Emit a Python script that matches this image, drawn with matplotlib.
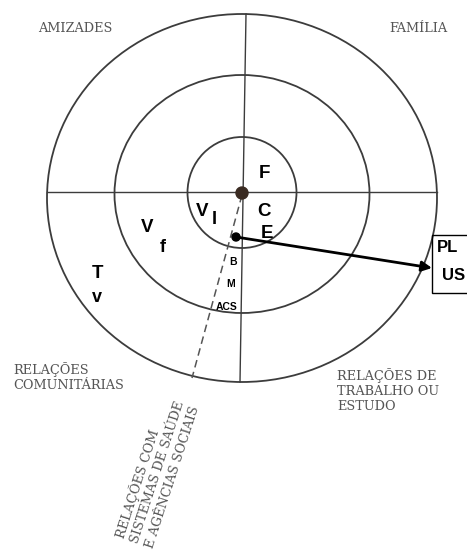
import matplotlib.pyplot as plt
from matplotlib.patches import Ellipse, Rectangle, Circle

W, H = 467, 552

# ring sizes (half widths / half heights, px) of the network map
ring_rx = [54.5, 127.5, 195]
ring_ry = [55.5, 119, 184]
ring_cy = [192.5, 194, 198]

quadrant_labels = ["AMIZADES", "FAMÍLIA", "RELAÇÕES\nCOMUNITÁRIAS",
                   "RELAÇÕES DE\nTRABALHO OU\nESTUDO"]
quadrant_pos = [(38, 29, "left"), (447, 29, "right"), (13, 377, "left"),
                (337, 391, "left")]
diag_label = "RELAÇÕES COM\nSISTEMAS DE SAÚDE\nE AGÊNCIAS SOCIAIS"

members = ["F", "C", "E", "V", "I", "V", "f", "T", "v"]
member_pos = [(264, 173), (264, 211), (267, 233), (202, 211), (214, 220),
              (147, 228), (163, 248), (97, 274), (97, 298)]
small_members = ["B", "M", "ACS"]
small_pos = [(233, 262), (231, 284), (227, 307)]
box_labels = ["PL", "US"]

fig = plt.figure(figsize=(W / 100, H / 100), dpi=100)
ax = fig.add_axes([0, 0, 1, 1])
ax.set_xlim(0, W)
ax.set_ylim(H, 0)
ax.axis("off")

line_col = "#3c3c3c"
for rx, ry, cy in zip(ring_rx, ring_ry, ring_cy):
    ax.add_patch(Ellipse((242, cy), 2 * rx, 2 * ry, fill=False,
                         ec=line_col, lw=1.3))

# quadrant dividers
ax.plot([47, 437], [192, 192], color=line_col, lw=1.0)
ax.plot([246, 240], [14, 382], color=line_col, lw=1.0)
# dashed sector for health systems
ax.plot([242, 192], [195, 378], color="#555555", lw=1.1, ls=(0, (5, 3)))

ax.add_patch(Circle((242, 193), 6, color="#3a2b22", zorder=5))
ax.add_patch(Circle((236, 237), 4, color="black", zorder=5))
ax.annotate("", xy=(432, 268), xytext=(236, 237),
            arrowprops=dict(arrowstyle="-|>", color="black", lw=2.0,
                            mutation_scale=15, shrinkA=0, shrinkB=0))
ax.add_patch(Rectangle((432, 235), 50, 58, fill=False, ec="black", lw=1.0,
                       clip_on=True))
ax.text(437, 248, box_labels[0], fontsize=12, fontweight="bold",
        family="Liberation Sans", va="center", ha="left")
ax.text(442, 276, box_labels[1], fontsize=12, fontweight="bold",
        family="Liberation Sans", va="center", ha="left")

serif = dict(family="DejaVu Serif", color="#555555", fontsize=9.3,
             linespacing=1.2)
for lab, (x, y, ha) in zip(quadrant_labels, quadrant_pos):
    ax.text(x, y, lab, ha=ha, va="center", **serif)
ax.text(157, 472, diag_label, rotation=72, rotation_mode="anchor",
        ha="center", va="center", multialignment="left", **serif)

for lab, (x, y) in zip(members, member_pos):
    size = 13 if lab in ("v", "f", "I") else 13.5
    ax.text(x, y, lab, fontsize=size, fontweight="bold",
            family="Liberation Sans", ha="center", va="center")
for lab, (x, y) in zip(small_members, small_pos):
    ax.text(x, y, lab, fontsize=7.5, fontweight="bold",
            family="Liberation Sans", ha="center", va="center")

fig.savefig("out.png", dpi=100, facecolor="white")
